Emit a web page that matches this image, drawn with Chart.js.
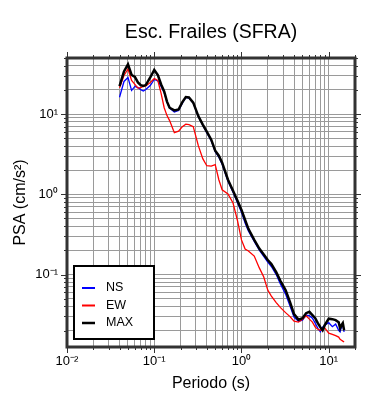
<!DOCTYPE html>
<html>
<head>
<meta charset="utf-8">
<script src="https://cdn.jsdelivr.net/npm/chart.js@4.4.1/dist/chart.umd.min.js"></script>
<style>
  html, body { margin: 0; padding: 0; background: #fff; }
</style>
</head>
<body>
<canvas id="psaChart" width="390" height="400"></canvas>
<script>
// periods (s) and spectral accelerations (cm/s^2)
var periods = [0.04, 0.045, 0.05, 0.055, 0.06, 0.065, 0.07, 0.075, 0.08, 0.09,
  0.1, 0.11, 0.12, 0.13, 0.14, 0.15, 0.17, 0.19, 0.21, 0.23,
  0.25, 0.28, 0.32, 0.36, 0.4, 0.45, 0.5, 0.55, 0.6, 0.7,
  0.8, 0.9, 1.0, 1.1, 1.2, 1.4, 1.6, 1.8, 2.0, 2.2,
  2.5, 2.8, 3.2, 3.6, 4.0, 4.5, 5.0, 5.5, 6.0, 6.5,
  7.0, 7.5, 8.0, 8.5, 9.0, 10, 11, 12, 13, 13.5,
  14, 14.5, 15];

var nsPsa = [16.2, 25.5, 28.6, 19.7, 22.1, 21.4, 20.2, 19.4, 20.2, 22.7,
  27.0, 25.9, 22.1, 18.6, 14.1, 11.9, 10.6, 11.06, 13.7, 16.1,
  15.8, 13.7, 9.31, 7.29, 5.87, 4.66, 3.40, 2.90, 2.37, 1.45,
  1.06, 0.783, 0.596, 0.44, 0.350, 0.259, 0.202, 0.168, 0.143, 0.126,
  0.100, 0.076, 0.057, 0.0404, 0.0294, 0.0262, 0.0270, 0.0312, 0.0307, 0.0286,
  0.0248, 0.0214, 0.0194, 0.0221, 0.0234, 0.0251, 0.0224, 0.0241, 0.0202, 0.0193,
  0.0221, 0.0234, 0.0193];

var ewPsa = [21.3, 30.3, 36.5, 26.2, 23.4, 21.1, 21.4, 22.1, 22.4, 24.8,
  27.8, 26.2, 18.0, 12.0, 9.57, 8.29, 5.87, 6.13, 6.98, 7.50,
  7.39, 6.98, 4.04, 2.78, 2.27, 2.24, 2.34, 1.52, 1.14, 1.01,
  0.78, 0.47, 0.27, 0.208, 0.197, 0.170, 0.121, 0.093, 0.064, 0.054,
  0.0447, 0.0387, 0.0335, 0.0299, 0.0262, 0.0255, 0.0278, 0.0307, 0.0278, 0.0255,
  0.0221, 0.0208, 0.0202, 0.0211, 0.0216, 0.0186, 0.0180, 0.0173, 0.0166, 0.0156,
  0.0152, 0.0148, 0.0145];

var maxPsa = [22.3, 34.0, 41.6, 30.7, 29.0, 24.8, 22.9, 22.4, 23.0, 28.6,
  35.5, 30.7, 23.4, 19.1, 14.3, 12.0, 11.1, 11.4, 14.1, 16.3,
  16.1, 13.9, 9.44, 7.39, 6.04, 4.80, 3.50, 3.03, 2.48, 1.52,
  1.11, 0.83, 0.64, 0.48, 0.371, 0.270, 0.211, 0.178, 0.152, 0.135,
  0.107, 0.083, 0.064, 0.0453, 0.0321, 0.0274, 0.0286, 0.0330, 0.0343, 0.0312,
  0.0286, 0.0248, 0.0221, 0.0202, 0.0234, 0.0282, 0.0278, 0.0270, 0.0255, 0.0214,
  0.0234, 0.0248, 0.0202];

var xDecades = [-2, -1, 0, 1];
var xTickLabels = ['10\u207B\u00B2', '10\u207B\u00B9', '10\u2070', '10\u00B9'];
var yDecades = [-1, 0, 1];
var yTickLabels = ['10\u207B\u00B9', '10\u2070', '10\u00B9'];

var xMin = 0.01, xMax = 20;
var yMin = 0.0125, yMax = 50;

function toPoints(values) {
  return periods.map(function (p, i) { return { x: p, y: values[i] }; });
}

function isDecade(v) {
  var lg = Math.log10(v);
  return Math.abs(lg - Math.round(lg)) < 1e-9;
}

// 1..9 x 10^n inside the range, like the grid of the original
function logTicks(min, max) {
  var out = [];
  for (var d = Math.floor(Math.log10(min)); d <= Math.ceil(Math.log10(max)); d++) {
    for (var m = 1; m <= 9; m++) {
      var v = m * Math.pow(10, d);
      if (v >= min * 0.9999 && v <= max * 1.0001) out.push({ value: v });
    }
  }
  return out;
}

function decadeLabel(value, decades, labels) {
  if (!isDecade(value)) return '';
  var i = decades.indexOf(Math.round(Math.log10(value)));
  return i >= 0 ? labels[i] : '';
}

var frameColor = '#333333';

var gmtFrame = {
  id: 'gmtFrame',
  afterDraw: function (chart) {
    var ctx = chart.ctx, a = chart.chartArea;
    var sx = chart.scales.x, sy = chart.scales.y;
    ctx.save();
    ctx.strokeStyle = frameColor;
    ctx.lineWidth = 1;
    ctx.beginPath();
    sx.ticks.forEach(function (t) {
      var px = Math.round(sx.getPixelForValue(t.value)) + 0.5;
      var len = isDecade(t.value) ? 6 : 3;
      ctx.moveTo(px, a.top); ctx.lineTo(px, a.top - len);
      ctx.moveTo(px, a.bottom); ctx.lineTo(px, a.bottom + len);
    });
    sy.ticks.forEach(function (t) {
      var py = Math.round(sy.getPixelForValue(t.value)) + 0.5;
      var len = isDecade(t.value) ? 6 : 3;
      ctx.moveTo(a.left, py); ctx.lineTo(a.left - len, py);
      ctx.moveTo(a.right, py); ctx.lineTo(a.right + len, py);
    });
    ctx.stroke();

    ctx.lineWidth = 3;
    ctx.strokeRect(a.left, a.top, a.right - a.left, a.bottom - a.top);

    // legend box, lower left inside the frame
    var bx = a.left + 7, by = a.bottom - 81, bw = 80, bh = 73;
    ctx.fillStyle = '#fff';
    ctx.fillRect(bx, by, bw, bh);
    ctx.strokeStyle = '#000';
    ctx.lineWidth = 2;
    ctx.strokeRect(bx, by, bw, bh);
    ctx.font = '12.5px "Liberation Sans", Arial, sans-serif';
    ctx.textBaseline = 'middle';
    ctx.textAlign = 'left';
    chart.data.datasets.forEach(function (ds, i) {
      var ly = by + 22 + i * 17.5;
      ctx.strokeStyle = ds.borderColor;
      ctx.lineWidth = i === 2 ? 2.5 : 2;
      ctx.beginPath();
      ctx.moveTo(bx + 8, ly); ctx.lineTo(bx + 21, ly);
      ctx.stroke();
      ctx.fillStyle = '#000';
      ctx.fillText(ds.label, bx + 32, ly);
    });
    ctx.restore();
  }
};

Chart.defaults.font.family = '"Liberation Sans", Arial, Helvetica, sans-serif';
Chart.defaults.color = '#000';

var ctx = document.getElementById('psaChart').getContext('2d');
var psaChart = new Chart(ctx, {
  type: 'line',
  data: {
    datasets: [
      { label: 'NS', data: toPoints(nsPsa), borderColor: '#0000ff', borderWidth: 1.3, pointRadius: 0, order: 2 },
      { label: 'EW', data: toPoints(ewPsa), borderColor: '#ff0000', borderWidth: 1.3, pointRadius: 0, order: 1 },
      { label: 'MAX', data: toPoints(maxPsa), borderColor: '#000000', borderWidth: 2.5, pointRadius: 0, order: 0 }
    ]
  },
  options: {
    responsive: false,
    animation: false,
    devicePixelRatio: 1,
    layout: { padding: { left: 0, right: 35, top: 0, bottom: 0 } },
    plugins: {
      legend: { display: false },
      tooltip: { enabled: false },
      title: {
        display: true,
        text: 'Esc. Frailes (SFRA)',
        fullSize: false,
        color: '#000',
        font: { size: 19.5, weight: 'normal' },
        padding: { top: 21, bottom: 13.6 }
      }
    },
    scales: {
      x: {
        type: 'logarithmic',
        min: xMin,
        max: xMax,
        afterBuildTicks: function (s) { s.ticks = logTicks(xMin, xMax); },
        afterFit: function (s) { s.height = 53; },
        ticks: {
          autoSkip: false,
          maxRotation: 0,
          padding: 7,
          font: { size: 13 },
          callback: function (v) { return decadeLabel(v, xDecades, xTickLabels); }
        },
        grid: { color: '#9a9a9a', lineWidth: 1, drawTicks: false },
        border: { display: false },
        title: { display: true, text: 'Periodo (s)', font: { size: 16 }, padding: { top: 0, bottom: 7 } }
      },
      y: {
        type: 'logarithmic',
        min: yMin,
        max: yMax,
        afterBuildTicks: function (s) { s.ticks = logTicks(yMin, yMax); },
        afterFit: function (s) { s.width = 67; },
        ticks: {
          autoSkip: false,
          padding: 9,
          font: { size: 13 },
          callback: function (v) { return decadeLabel(v, yDecades, yTickLabels); }
        },
        grid: { color: '#9a9a9a', lineWidth: 1, drawTicks: false },
        border: { display: false },
        title: { display: true, text: 'PSA (cm/s\u00B2)', font: { size: 16 }, padding: { top: 11, bottom: 0 } }
      }
    }
  },
  plugins: [gmtFrame]
});
</script>
</body>
</html>
